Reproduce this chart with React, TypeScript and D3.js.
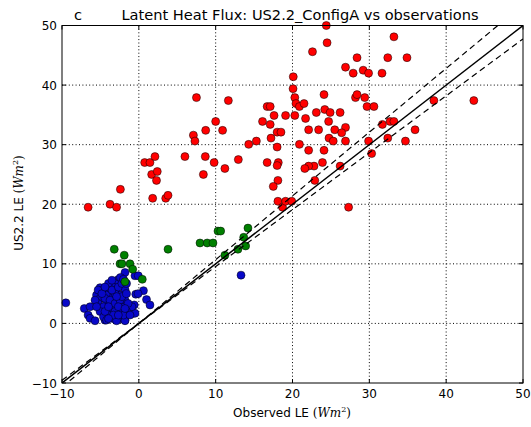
import React from "react";
import * as d3 from "d3";

const W = 531, H = 427;
const M = { left: 62, right: 523, top: 25.5, bottom: 383 };

const xTicks = [-10, 0, 10, 20, 30, 40, 50];
const yTicks = [-10, 0, 10, 20, 30, 40, 50];

const titleText = "Latent Heat Flux: US2.2_ConfigA vs observations";
const panelLabel = "c";

// red points [obs, model]
const redX = [-6.6, -3.75, -2.9, -2.4, 0.76, 1.45, 2.1, 1.67, 2.4, 2.3, 1.8, 3.5, 3.8, 6.0, 7.1, 7.3, 7.5, 8.65, 8.7, 8.4, 9.8, 10.0, 10.9, 11.2, 11.65, 12.95, 14.3, 15.3, 16.1, 16.7, 17.1, 17.1, 17.2, 17.6, 18.0, 18.5, 18.0, 16.7, 18.15, 18.0, 18.1, 17.5, 18.1, 18.7, 19.1, 19.9, 19.1, 20.1, 20.07, 20.3, 20.45, 20.3, 20.9, 20.9,
  24.4, 24.5, 22.6, 28.4, 33.2, 32.4, 34.9, 26.9, 27.9, 29.2, 29.9, 31.65, 24.1, 28.2, 28.4, 29.4, 29.7, 30.6, 21.5, 24.2, 24.9, 26.2, 23.1, 21.7, 24.7, 22.1, 23.4, 25.5, 26.9, 26.4, 24.75, 25.3, 26.9, 22.1, 24.1, 23.9, 22.8, 22.1, 21.6, 26.2, 22.9, 27.3, 29.9, 30.3, 31.7, 32.7, 33.2, 32.4, 34.7, 35.95, 38.4, 43.6];
const redY = [19.5, 20.0, 19.5, 22.5, 27.0, 27.0, 28.0, 25.0, 25.5, 24.0, 21.0, 21.0, 21.5, 28.0, 31.6, 30.6, 37.9, 28.0, 32.4, 25.0, 27.0, 33.9, 32.4, 26.0, 37.4, 27.5, 30.05, 30.6, 33.9, 36.4, 36.4, 33.4, 31.1, 34.9, 32.1, 32.1, 29.6, 27.0, 27.0, 26.5, 24.0, 23.0, 20.5, 19.5, 20.5, 20.5, 34.9, 41.4, 39.4, 37.9, 36.9, 34.9, 36.4, 30.05,
  50.0, 47.1, 45.6, 44.6, 48.1, 44.6, 44.6, 43.0, 42.0, 42.5, 42.0, 42.0, 38.4, 37.9, 38.4, 37.9, 36.4, 36.4, 36.9, 35.9, 35.4, 35.4, 35.4, 34.4, 33.9, 32.5, 32.5, 32.5, 32.9, 32.0, 31.1, 30.6, 30.6, 29.05, 29.05, 27.0, 26.4, 26.4, 26.0, 26.4, 24.0, 19.5, 30.6, 28.5, 33.4, 33.9, 33.9, 31.1, 30.6, 32.5, 37.4, 37.4];

const greenX = [-3.2, -1.9, -2.45, -2.2, -1.15, -0.8, 3.8, 7.96, 8.9, 9.65, 10.3, 10.65, 11.2, 12.9, 13.65, 14.2, 13.9, 0.45, -1.8];
const greenY = [12.45, 11.45, 10.0, 10.0, 10.0, 9.1, 12.45, 13.5, 13.5, 13.5, 15.5, 15.5, 11.45, 12.45, 14.45, 16.0, 13.0, 7.4, 7.0];

const blueX = [-9.5, -7.1, -6.35, -6.6, -6.35, -5.7, -1.8, -0.5, -0.07, 0.6, -0.4, -0.1, 1.0, 1.45, -0.6, -0.7, -0.5, -1.8, -4.4, 13.3,
  -2.67, -3.1, -2.4, -3.3, -5.05, -4.6, -5.5, -3.75, -2.9, -1.8, -2.45, -4.2, -3.3, -5.05, -1.8, -2.9, -4.2, -5.3, -4.6, -3.3, -2.2, -0.9, -5.05, -3.75, -2.67, -1.6, -4.6, -3.3, -2.45, -4.2, -2.9, -1.8, -3.75, -3.1, -3.95, -3.5, -4.4, -3.75, -3.1, -2.45, -1.4, -2.0, -1.15, -5.3, -4.8, -5.7, -5.5, -4.4, -3.1, -2.2, -1.6, -2.9, -3.95, -2.67, -1.8, -3.3, -2.67, -3.95, -3.5, -4.4, -2.67, -2.2, -2.0, -1.6];
const blueY = [3.45, 2.5, 2.8, 1.4, 0.85, 0.45, 8.55, 8.0, 8.0, 5.5, 4.9, 5.0, 4.0, 3.1, 3.1, 1.7, 1.7, 0.55, 0.55, 8.1,
  7.37, 6.7, 7.7, 6.1, 6.0, 5.6, 4.75, 5.7, 5.7, 5.7, 4.75, 4.75, 4.5, 4.2, 3.9, 3.6, 3.5, 3.35, 2.8, 2.8, 2.8, 2.8, 2.0, 2.0, 2.0, 2.0, 1.1, 0.8, 0.8, 0.56, 0.45, 0.45, 1.4, 5.0, 6.7, 7.25, 4.2, 3.9, 3.35, 3.9, 3.35, 1.4, 1.4, 5.6, 5.0, 3.9, 2.8, 2.0, 2.0, 4.5, 5.0, 4.5, 2.8, 2.8, 2.5, 1.4, 1.4, 0.8, 5.6, 6.1, 6.1, 6.7, 7.4, 6.7];

const oneToOne = [1, 1.07, 0.955];

export default function App() {
  const x = d3.scaleLinear().domain([-10, 50]).range([M.left, M.right]);
  const y = d3.scaleLinear().domain([-10, 50]).range([M.bottom, M.top]);
  const font = "'DejaVu Sans', sans-serif";

  const series = [
    { xs: blueX, ys: blueY, color: "#0808c8" },
    { xs: greenX, ys: greenY, color: "#008000" },
    { xs: redX, ys: redY, color: "#ff0000" },
  ];

  return (
    <svg width={W} height={H} style={{ position: "absolute", left: 0, top: 0, background: "#fff" }} fontFamily={font}>
      <defs>
        <clipPath id="plotclip">
          <rect x={M.left} y={M.top} width={M.right - M.left} height={M.bottom - M.top} />
        </clipPath>
      </defs>
      <rect x={0} y={0} width={W} height={H} fill="#fff" />
      {xTicks.slice(1, -1).map((t) => (
        <line key={"gx" + t} x1={x(t)} x2={x(t)} y1={M.top} y2={M.bottom} stroke="#000" strokeWidth={1} strokeDasharray="1,2.4" />
      ))}
      {yTicks.slice(1, -1).map((t) => (
        <line key={"gy" + t} y1={y(t)} y2={y(t)} x1={M.left} x2={M.right} stroke="#000" strokeWidth={1} strokeDasharray="1,2.4" />
      ))}
      {series.map((s, si) =>
        s.xs.map((v, i) => (
          <circle key={si + "-" + i} cx={x(v)} cy={y(s.ys[i])} r={4} fill={s.color} stroke="#000" strokeWidth={0.5} />
        ))
      )}
      <g clipPath="url(#plotclip)">
        {oneToOne.map((k, i) => {
          const pts = [-10, 50];
          return (
            <path key={"l" + i} d={d3.line<number>().x((v) => x(v)).y((v) => y(v * k))(pts) || ""}
              fill="none" stroke="#000" strokeWidth={i === 0 ? 1.5 : 1.2} strokeDasharray={i === 0 ? undefined : "6,4"} />
          );
        })}
      </g>
      <rect x={M.left} y={M.top} width={M.right - M.left} height={M.bottom - M.top} fill="none" stroke="#000" strokeWidth={1} />
      {xTicks.map((t) => (
        <g key={"tx" + t}>
          <line x1={x(t)} x2={x(t)} y1={M.bottom} y2={M.bottom - 4} stroke="#000" />
          <line x1={x(t)} x2={x(t)} y1={M.top} y2={M.top + 4} stroke="#000" />
          <text x={x(t)} y={398} textAnchor="middle" fontSize={12} fill="#000">{t < 0 ? "\u2212" + Math.abs(t) : t}</text>
        </g>
      ))}
      {yTicks.map((t) => (
        <g key={"ty" + t}>
          <line x1={M.left} x2={M.left + 4} y1={y(t)} y2={y(t)} stroke="#000" />
          <line x1={M.right} x2={M.right - 4} y1={y(t)} y2={y(t)} stroke="#000" />
          <text x={M.left - 5} y={y(t) + 4.5} textAnchor="end" fontSize={12} fill="#000">{t < 0 ? "\u2212" + Math.abs(t) : t}</text>
        </g>
      ))}
      <text x={300} y={20} textAnchor="middle" fontSize={14.6} fill="#000">{titleText}</text>
      <text x={74} y={20} fontSize={14.6} fill="#000">{panelLabel}</text>
      <text x={292} y={417} textAnchor="middle" fontSize={12} fill="#000">
        Observed LE <tspan fontFamily="'DejaVu Serif', serif">(</tspan><tspan fontFamily="'DejaVu Serif', serif" fontStyle="italic">Wm</tspan><tspan fontFamily="'DejaVu Serif', serif" fontSize={8} dy={-5}>2</tspan><tspan fontFamily="'DejaVu Serif', serif" dy={5}>)</tspan>
      </text>
      <text transform={`translate(23, 203) rotate(-90)`} textAnchor="middle" fontSize={12} fill="#000">
        US2.2 LE <tspan fontFamily="'DejaVu Serif', serif">(</tspan><tspan fontFamily="'DejaVu Serif', serif" fontStyle="italic">Wm</tspan><tspan fontFamily="'DejaVu Serif', serif" fontSize={8} dy={-5}>2</tspan><tspan fontFamily="'DejaVu Serif', serif" dy={5}>)</tspan>
      </text>
    </svg>
  );
}
